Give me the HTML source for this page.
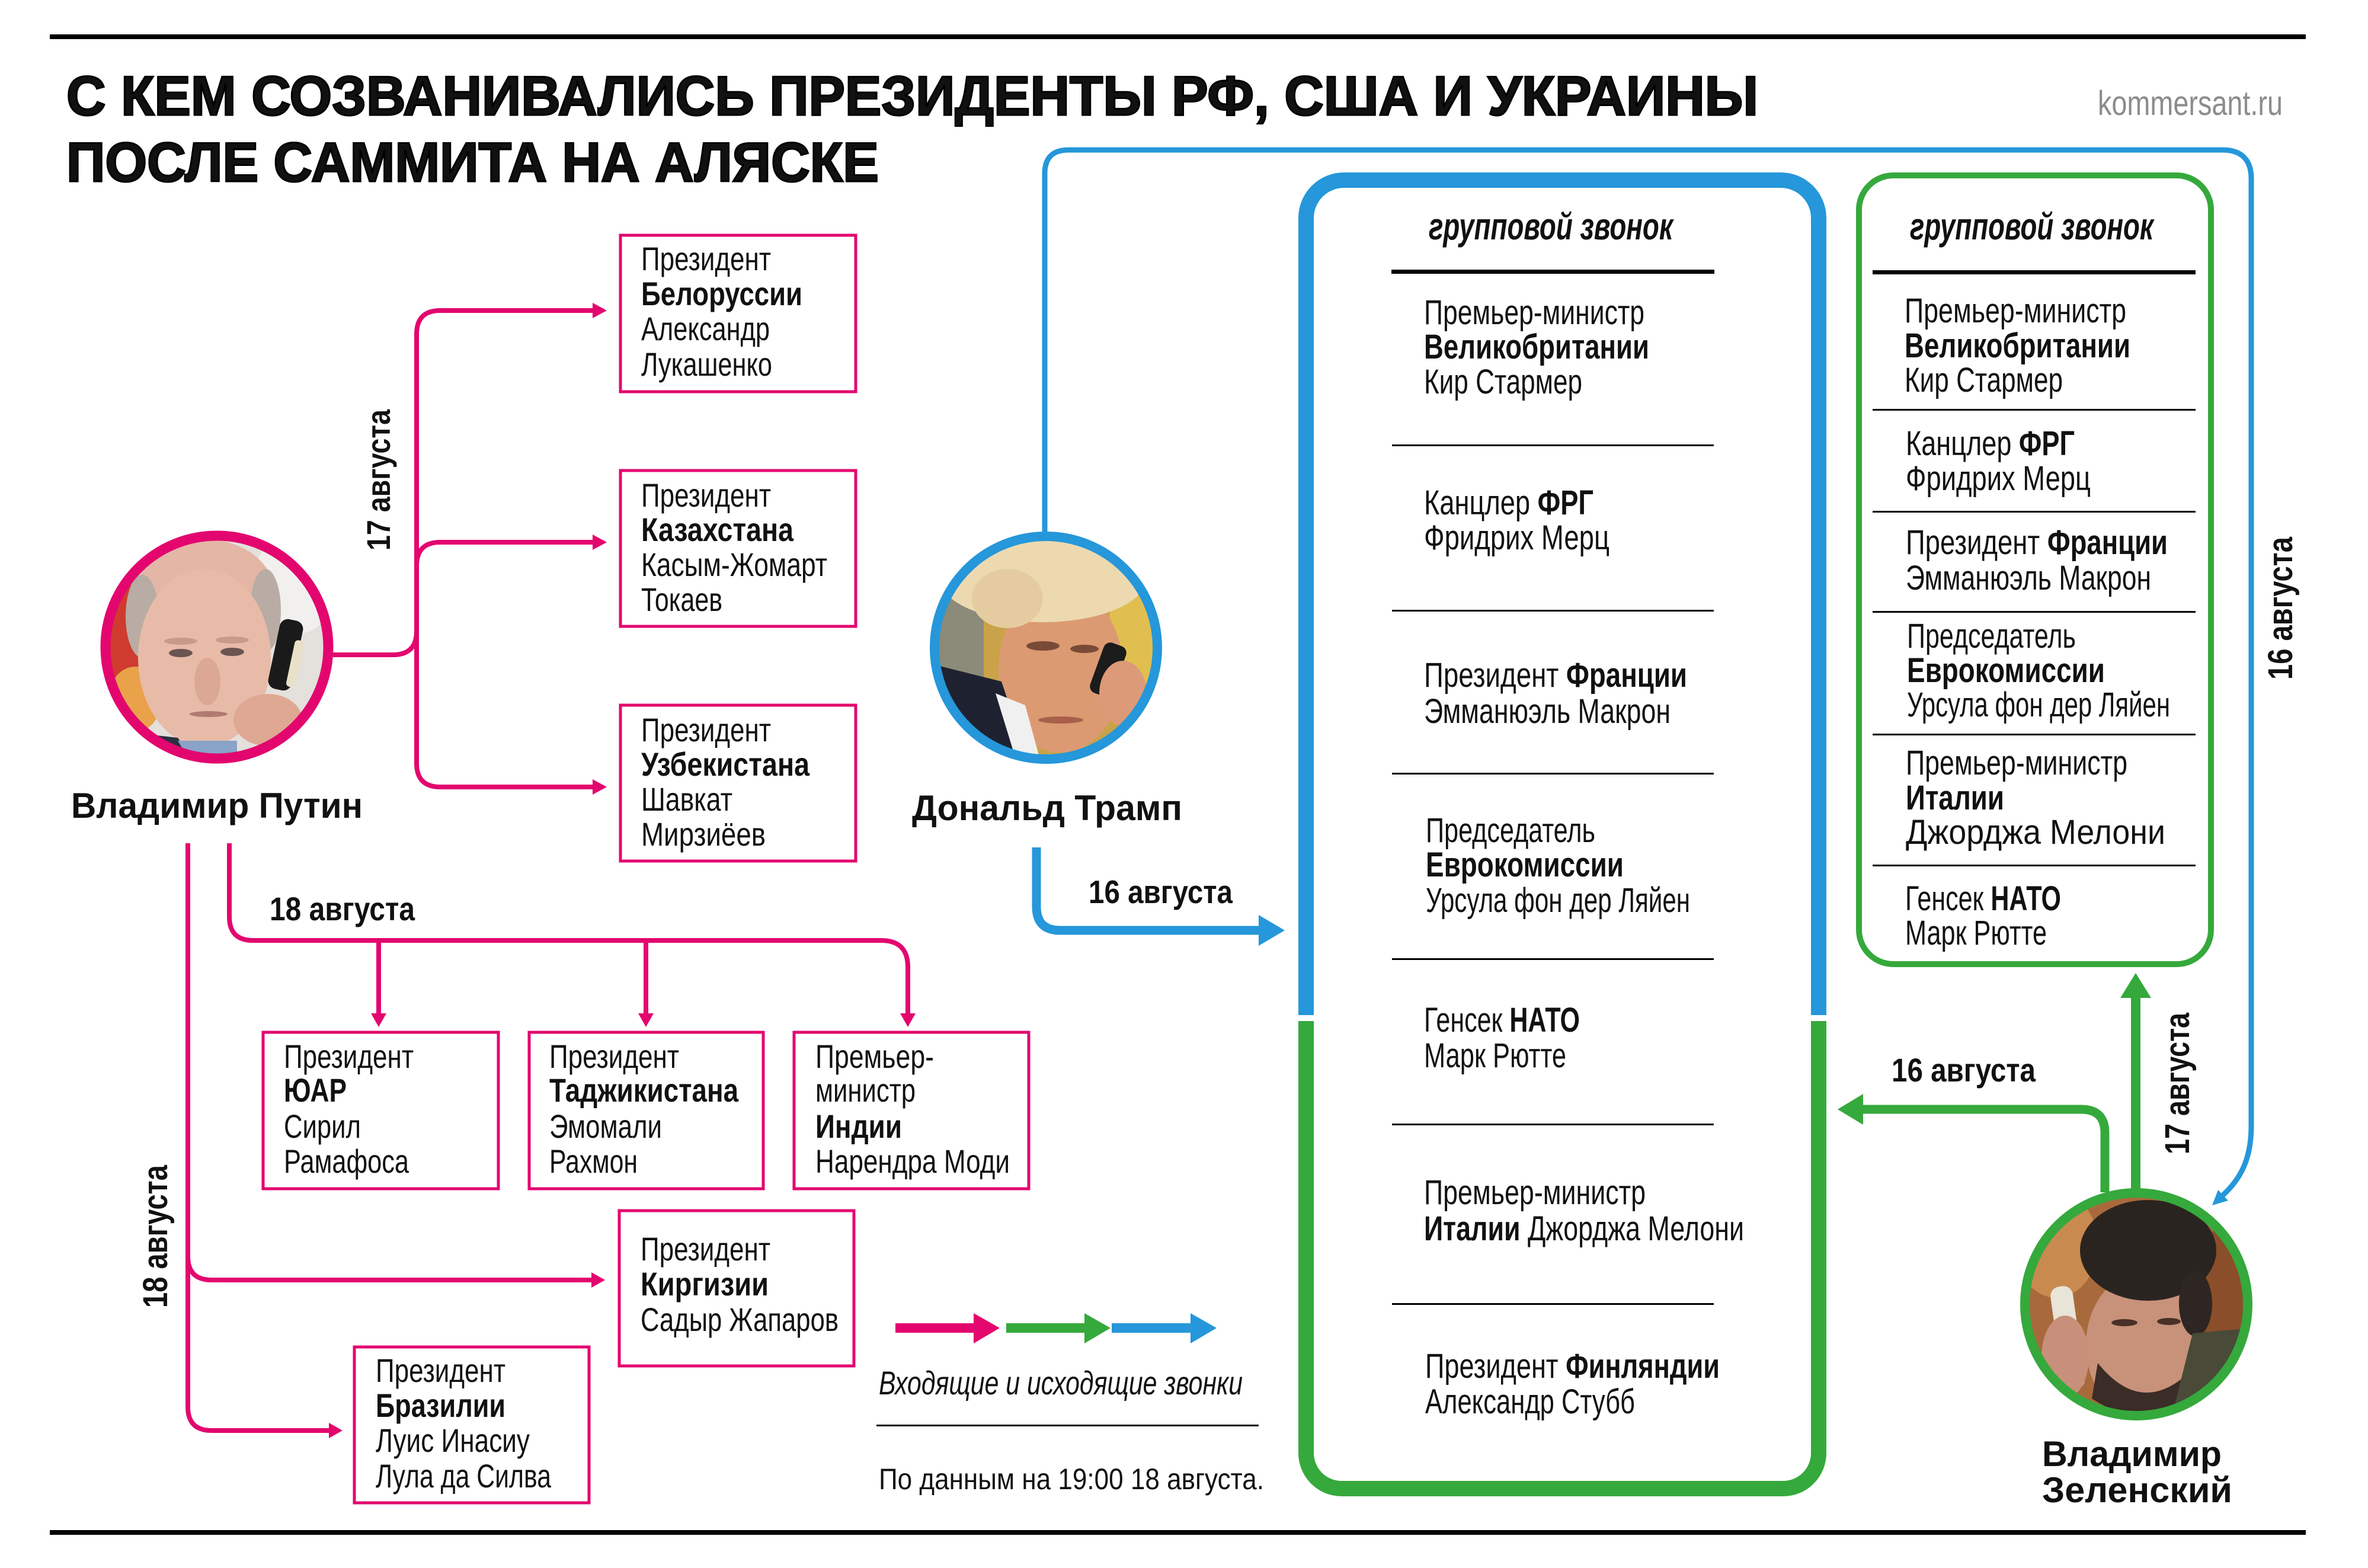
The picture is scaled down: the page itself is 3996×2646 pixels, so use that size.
<!DOCTYPE html>
<html><head><meta charset="utf-8"><style>
html,body{margin:0;padding:0;background:#fff;overflow:hidden}
svg{display:block}
text{font-family:"Liberation Sans","DejaVu Sans",sans-serif;fill:#111}
.b{font-weight:bold}
</style></head><body>
<svg xmlns="http://www.w3.org/2000/svg" width="3996" height="2646" viewBox="0 0 3996 2646">
<defs>
<clipPath id="cp"><circle cx="366" cy="1092" r="182"/></clipPath>
<clipPath id="ct"><circle cx="1765" cy="1093" r="182"/></clipPath>
<clipPath id="cz"><circle cx="3605" cy="2201" r="182"/></clipPath>
</defs>
<rect width="3996" height="2646" fill="#fff"/>

<!-- rules -->
<rect x="84" y="58" width="3807" height="8" fill="#000"/>
<rect x="84" y="2582" width="3807" height="8" fill="#000"/>

<!-- title -->
<text x="112" y="194" font-size="94" class="b" stroke="#000" stroke-width="3" textLength="2855" lengthAdjust="spacingAndGlyphs">С КЕМ СОЗВАНИВАЛИСЬ ПРЕЗИДЕНТЫ РФ, США И УКРАИНЫ</text>
<text x="112" y="306" font-size="94" class="b" stroke="#000" stroke-width="3" textLength="1371" lengthAdjust="spacingAndGlyphs">ПОСЛЕ САММИТА НА АЛЯСКЕ</text>
<text x="3540" y="194" font-size="58" style="fill:#8c8c8c" textLength="312" lengthAdjust="spacingAndGlyphs">kommersant.ru</text>

<!-- ===== PUTIN ===== -->
<g clip-path="url(#cp)">
<rect x="170" y="890" width="400" height="410" fill="#e4e0dc"/>
<ellipse cx="210" cy="1050" rx="60" ry="130" fill="#cf3b2e"/>
<ellipse cx="228" cy="1180" rx="45" ry="55" fill="#e9a24a"/>
<ellipse cx="250" cy="960" rx="40" ry="40" fill="#e07a55"/>
<ellipse cx="500" cy="980" rx="70" ry="90" fill="#f2f0ee"/>
<ellipse cx="345" cy="1000" rx="118" ry="90" fill="#e3b6a6"/>
<ellipse cx="240" cy="1040" rx="28" ry="70" fill="#b9aca4"/>
<ellipse cx="448" cy="1030" rx="26" ry="70" fill="#b9aca4"/>
<ellipse cx="345" cy="1110" rx="112" ry="150" fill="#e8bba8"/>
<ellipse cx="305" cy="1102" rx="20" ry="7" fill="#6a5550"/>
<ellipse cx="392" cy="1100" rx="20" ry="7" fill="#6a5550"/>
<ellipse cx="305" cy="1082" rx="28" ry="6" fill="#c99a8a"/>
<ellipse cx="392" cy="1080" rx="28" ry="6" fill="#c99a8a"/>
<ellipse cx="350" cy="1150" rx="22" ry="40" fill="#dba896"/>
<ellipse cx="352" cy="1205" rx="32" ry="5" fill="#b07a70"/>
<path d="M170 1230 L300 1245 L340 1300 L170 1300 Z" fill="#2b3140"/>
<path d="M300 1250 L400 1250 L400 1300 L330 1300 Z" fill="#8aa3c8"/>
<rect x="462" y="1045" width="40" height="120" rx="14" fill="#1a1a1a" transform="rotate(12 482 1105)"/>
<rect x="490" y="1080" width="16" height="80" rx="6" fill="#e8e0c8" transform="rotate(12 498 1120)"/>
<ellipse cx="452" cy="1215" rx="58" ry="44" fill="#dfa892"/>
</g>
<circle cx="366" cy="1092" r="188" fill="none" stroke="#E3066F" stroke-width="17"/>
<text x="120" y="1380" font-size="60" class="b" textLength="492" lengthAdjust="spacingAndGlyphs">Владимир Путин</text>

<!-- putin connectors -->
<g fill="none" stroke="#E3066F" stroke-width="8">
<path d="M562 1105 H663 Q703 1105 703 1065 V564 Q703 524 743 524 H1004"/>
<path d="M703 955 Q703 915 743 915 H1004"/>
<path d="M703 1060 V1288 Q703 1328 743 1328 H1004"/>
<path d="M387 1423 V1547 Q387 1587 427 1587 H1487 Q1532 1587 1532 1632 V1712"/>
<path d="M639 1587 V1712"/>
<path d="M1090 1587 V1712"/>
<path d="M317 1423 V2120 Q317 2160 357 2160 H1002"/>
<path d="M317 2110 V2374 Q317 2414 357 2414 H560"/>
</g>
<g fill="#E3066F">
<polygon points="1000,511 1024,524 1000,537"/>
<polygon points="1000,902 1024,915 1000,928"/>
<polygon points="1000,1315 1024,1328 1000,1341"/>
<polygon points="626,1710 652,1710 639,1733"/>
<polygon points="1077,1710 1103,1710 1090,1733"/>
<polygon points="1519,1710 1545,1710 1532,1733"/>
<polygon points="998,2147 1021,2160 998,2173"/>
<polygon points="555,2401 578,2414 555,2427"/>
</g>
<text transform="translate(658 929) rotate(-90)" font-size="56" class="b" textLength="238" lengthAdjust="spacingAndGlyphs">17 августа</text>
<text x="455" y="1553" font-size="56" class="b" textLength="245" lengthAdjust="spacingAndGlyphs">18 августа</text>
<text transform="translate(282 2207) rotate(-90)" font-size="58" class="b" textLength="241" lengthAdjust="spacingAndGlyphs">18 августа</text>

<!-- magenta boxes -->
<g fill="none" stroke="#E3066F" stroke-width="5">
<rect x="1047" y="397" width="397" height="264"/>
<rect x="1047" y="794" width="397" height="263"/>
<rect x="1047" y="1190" width="397" height="263"/>
<rect x="444" y="1742" width="397" height="264"/>
<rect x="893" y="1742" width="395" height="264"/>
<rect x="1340" y="1742" width="396" height="264"/>
<rect x="1045" y="2043" width="396" height="262"/>
<rect x="598" y="2273" width="396" height="263"/>
</g>
<g font-size="56">
<text x="1082" y="456" textLength="219" lengthAdjust="spacingAndGlyphs">Президент</text>
<text x="1082" y="515" class="b" textLength="272" lengthAdjust="spacingAndGlyphs">Белоруссии</text>
<text x="1082" y="574" textLength="217" lengthAdjust="spacingAndGlyphs">Александр</text>
<text x="1082" y="634" textLength="221" lengthAdjust="spacingAndGlyphs">Лукашенко</text>

<text x="1082" y="855" textLength="219" lengthAdjust="spacingAndGlyphs">Президент</text>
<text x="1082" y="913" class="b" textLength="257" lengthAdjust="spacingAndGlyphs">Казахстана</text>
<text x="1082" y="972" textLength="314" lengthAdjust="spacingAndGlyphs">Касым-Жомарт</text>
<text x="1082" y="1031" textLength="137" lengthAdjust="spacingAndGlyphs">Токаев</text>

<text x="1082" y="1251" textLength="219" lengthAdjust="spacingAndGlyphs">Президент</text>
<text x="1082" y="1309" class="b" textLength="284" lengthAdjust="spacingAndGlyphs">Узбекистана</text>
<text x="1082" y="1368" textLength="154" lengthAdjust="spacingAndGlyphs">Шавкат</text>
<text x="1082" y="1427" textLength="210" lengthAdjust="spacingAndGlyphs">Мирзиёев</text>

<text x="479" y="1802" textLength="219" lengthAdjust="spacingAndGlyphs">Президент</text>
<text x="479" y="1859" class="b" textLength="106" lengthAdjust="spacingAndGlyphs">ЮАР</text>
<text x="479" y="1920" textLength="130" lengthAdjust="spacingAndGlyphs">Сирил</text>
<text x="479" y="1979" textLength="211" lengthAdjust="spacingAndGlyphs">Рамафоса</text>

<text x="927" y="1802" textLength="219" lengthAdjust="spacingAndGlyphs">Президент</text>
<text x="927" y="1859" class="b" textLength="319" lengthAdjust="spacingAndGlyphs">Таджикистана</text>
<text x="927" y="1920" textLength="190" lengthAdjust="spacingAndGlyphs">Эмомали</text>
<text x="927" y="1979" textLength="149" lengthAdjust="spacingAndGlyphs">Рахмон</text>

<text x="1376" y="1802" textLength="200" lengthAdjust="spacingAndGlyphs">Премьер-</text>
<text x="1376" y="1859" textLength="169" lengthAdjust="spacingAndGlyphs">министр</text>
<text x="1376" y="1920" class="b" textLength="146" lengthAdjust="spacingAndGlyphs">Индии</text>
<text x="1376" y="1979" textLength="328" lengthAdjust="spacingAndGlyphs">Нарендра Моди</text>

<text x="1081" y="2127" textLength="219" lengthAdjust="spacingAndGlyphs">Президент</text>
<text x="1081" y="2186" class="b" textLength="216" lengthAdjust="spacingAndGlyphs">Киргизии</text>
<text x="1081" y="2246" textLength="334" lengthAdjust="spacingAndGlyphs">Садыр Жапаров</text>

<text x="634" y="2332" textLength="219" lengthAdjust="spacingAndGlyphs">Президент</text>
<text x="634" y="2391" class="b" textLength="219" lengthAdjust="spacingAndGlyphs">Бразилии</text>
<text x="634" y="2450" textLength="260" lengthAdjust="spacingAndGlyphs">Луис Инасиу</text>
<text x="634" y="2510" textLength="296" lengthAdjust="spacingAndGlyphs">Лула да Силва</text>
</g>

<!-- ===== TRUMP ===== -->
<path d="M1763 899 V293 Q1763 253 1803 253 H3750 Q3799 253 3799 302 V1900 C3799 1960 3778 1992 3751 2017" fill="none" stroke="#2597DA" stroke-width="9"/>
<polygon points="3760,2026 3733,2034 3743,2008" fill="#2597DA"/>
<g clip-path="url(#ct)">
<rect x="1570" y="890" width="400" height="410" fill="#c9a24a"/>
<rect x="1570" y="890" width="90" height="410" fill="#8c8a78"/>
<ellipse cx="1930" cy="1080" rx="60" ry="150" fill="#e0bf50"/>
<ellipse cx="1790" cy="1130" rx="105" ry="140" fill="#dc9a72"/>
<ellipse cx="1760" cy="975" rx="175" ry="75" fill="#ecd9b0"/>
<ellipse cx="1700" cy="1010" rx="60" ry="50" fill="#e5ccA0"/>
<ellipse cx="1760" cy="1090" rx="28" ry="8" fill="#7a4a38"/>
<ellipse cx="1830" cy="1095" rx="24" ry="7" fill="#7a4a38"/>
<ellipse cx="1790" cy="1215" rx="38" ry="6" fill="#a8604a"/>
<path d="M1570 1120 L1690 1150 L1740 1300 L1570 1300 Z" fill="#1e2230"/>
<path d="M1680 1170 L1730 1190 L1760 1300 L1720 1300 Z" fill="#f0f0f0"/>
<rect x="1850" y="1085" width="40" height="90" rx="12" fill="#1b1b1b" transform="rotate(20 1870 1130)"/>
<ellipse cx="1895" cy="1170" rx="40" ry="55" fill="#dc9a78"/>
</g>
<circle cx="1765" cy="1093" r="188" fill="none" stroke="#2597DA" stroke-width="16"/>
<text x="1539" y="1384" font-size="60" class="b" textLength="456" lengthAdjust="spacingAndGlyphs">Дональд Трамп</text>
<path d="M1749 1430 V1530 Q1749 1570 1789 1570 H2128" fill="none" stroke="#2597DA" stroke-width="15"/>
<polygon points="2124,1544 2168,1570 2124,1596" fill="#2597DA"/>
<text x="1837" y="1524" font-size="55" class="b" textLength="243" lengthAdjust="spacingAndGlyphs">16 августа</text>

<!-- ===== BIG BOX ===== -->
<path d="M2204 1713 V368 A64 64 0 0 1 2268 304 H3005 A64 64 0 0 1 3069 368 V1713" fill="none" stroke="#2597DA" stroke-width="26"/>
<path d="M2204 1723 V2452 A60 60 0 0 0 2264 2512 H3009 A60 60 0 0 0 3069 2452 V1723" fill="none" stroke="#35A93C" stroke-width="26"/>
<text x="2411" y="404" font-size="64" class="b" font-style="italic" textLength="412" lengthAdjust="spacingAndGlyphs">групповой звонок</text>
<rect x="2348" y="455" width="545" height="7" fill="#000"/>
<g fill="#000">
<rect x="2349" y="750" width="543" height="3"/>
<rect x="2349" y="1029" width="543" height="3"/>
<rect x="2349" y="1304" width="543" height="3"/>
<rect x="2349" y="1617" width="543" height="3"/>
<rect x="2349" y="1896" width="543" height="3"/>
<rect x="2349" y="2199" width="543" height="3"/>
</g>
<g font-size="58">
<text x="2403" y="547" textLength="372" lengthAdjust="spacingAndGlyphs">Премьер-министр</text>
<text x="2403" y="605" class="b" textLength="380" lengthAdjust="spacingAndGlyphs">Великобритании</text>
<text x="2403" y="664" textLength="267" lengthAdjust="spacingAndGlyphs">Кир Стармер</text>
<text x="2403" y="868" textLength="286" lengthAdjust="spacingAndGlyphs">Канцлер <tspan class="b">ФРГ</tspan></text>
<text x="2403" y="927" textLength="313" lengthAdjust="spacingAndGlyphs">Фридрих Мерц</text>
<text x="2403" y="1159" textLength="444" lengthAdjust="spacingAndGlyphs">Президент <tspan class="b">Франции</tspan></text>
<text x="2403" y="1220" textLength="416" lengthAdjust="spacingAndGlyphs">Эмманюэль Макрон</text>
<text x="2406" y="1421" textLength="286" lengthAdjust="spacingAndGlyphs">Председатель</text>
<text x="2406" y="1479" class="b" textLength="334" lengthAdjust="spacingAndGlyphs">Еврокомиссии</text>
<text x="2406" y="1539" textLength="446" lengthAdjust="spacingAndGlyphs">Урсула фон дер Ляйен</text>
<text x="2403" y="1741" textLength="263" lengthAdjust="spacingAndGlyphs">Генсек <tspan class="b">НАТО</tspan></text>
<text x="2403" y="1801" textLength="240" lengthAdjust="spacingAndGlyphs">Марк Рютте</text>
<text x="2403" y="2032" textLength="374" lengthAdjust="spacingAndGlyphs">Премьер-министр</text>
<text x="2403" y="2093" textLength="540" lengthAdjust="spacingAndGlyphs"><tspan class="b">Италии</tspan> Джорджа Мелони</text>
<text x="2405" y="2325" textLength="497" lengthAdjust="spacingAndGlyphs">Президент <tspan class="b">Финляндии</tspan></text>
<text x="2405" y="2385" textLength="354" lengthAdjust="spacingAndGlyphs">Александр Стубб</text>
</g>

<!-- ===== GREEN BOX ===== -->
<rect x="3137" y="296" width="594" height="1331" rx="58" fill="none" stroke="#35A93C" stroke-width="10"/>
<text x="3223" y="404" font-size="64" class="b" font-style="italic" textLength="411" lengthAdjust="spacingAndGlyphs">групповой звонок</text>
<rect x="3160" y="456" width="545" height="7" fill="#000"/>
<g fill="#000">
<rect x="3160" y="690" width="545" height="3"/>
<rect x="3160" y="862" width="545" height="3"/>
<rect x="3160" y="1031" width="545" height="3"/>
<rect x="3160" y="1238" width="545" height="3"/>
<rect x="3160" y="1459" width="545" height="3"/>
</g>
<g font-size="58">
<text x="3214" y="544" textLength="374" lengthAdjust="spacingAndGlyphs">Премьер-министр</text>
<text x="3214" y="603" class="b" textLength="381" lengthAdjust="spacingAndGlyphs">Великобритании</text>
<text x="3214" y="661" textLength="267" lengthAdjust="spacingAndGlyphs">Кир Стармер</text>
<text x="3216" y="768" textLength="285" lengthAdjust="spacingAndGlyphs">Канцлер <tspan class="b">ФРГ</tspan></text>
<text x="3216" y="827" textLength="312" lengthAdjust="spacingAndGlyphs">Фридрих Мерц</text>
<text x="3216" y="935" textLength="442" lengthAdjust="spacingAndGlyphs">Президент <tspan class="b">Франции</tspan></text>
<text x="3216" y="995" textLength="414" lengthAdjust="spacingAndGlyphs">Эмманюэль Макрон</text>
<text x="3218" y="1093" textLength="285" lengthAdjust="spacingAndGlyphs">Председатель</text>
<text x="3218" y="1151" class="b" textLength="334" lengthAdjust="spacingAndGlyphs">Еврокомиссии</text>
<text x="3218" y="1209" textLength="444" lengthAdjust="spacingAndGlyphs">Урсула фон дер Ляйен</text>
<text x="3216" y="1307" textLength="374" lengthAdjust="spacingAndGlyphs">Премьер-министр</text>
<text x="3216" y="1366" class="b" textLength="166" lengthAdjust="spacingAndGlyphs">Италии</text>
<text x="3216" y="1424" textLength="438" lengthAdjust="spacingAndGlyphs">Джорджа Мелони</text>
<text x="3215" y="1536" textLength="263" lengthAdjust="spacingAndGlyphs">Генсек <tspan class="b">НАТО</tspan></text>
<text x="3215" y="1594" textLength="239" lengthAdjust="spacingAndGlyphs">Марк Рютте</text>
</g>
<text transform="translate(3868 1147) rotate(-90)" font-size="58" class="b" textLength="241" lengthAdjust="spacingAndGlyphs">16 августа</text>

<!-- ===== ZELENSKY ===== -->
<path d="M3604 2012 V1680" fill="none" stroke="#35A93C" stroke-width="16"/>
<polygon points="3578,1684 3604,1642 3630,1684" fill="#35A93C"/>
<path d="M3552 2012 V1912 Q3552 1872 3512 1872 H3140" fill="none" stroke="#35A93C" stroke-width="15"/>
<polygon points="3144,1846 3101,1872 3144,1898" fill="#35A93C"/>
<text x="3192" y="1825" font-size="56" class="b" textLength="243" lengthAdjust="spacingAndGlyphs">16 августа</text>
<text transform="translate(3694 1948) rotate(-90)" font-size="58" class="b" textLength="239" lengthAdjust="spacingAndGlyphs">17 августа</text>
<g clip-path="url(#cz)">
<rect x="3400" y="2000" width="410" height="410" fill="#a86a3c"/>
<ellipse cx="3470" cy="2100" rx="70" ry="90" fill="#c98a50"/>
<ellipse cx="3760" cy="2180" rx="50" ry="120" fill="#8a4e2a"/>
<ellipse cx="3620" cy="2270" rx="100" ry="125" fill="#c8927a"/>
<ellipse cx="3625" cy="2110" rx="115" ry="85" fill="#2a2420"/>
<ellipse cx="3705" cy="2200" rx="28" ry="55" fill="#2e2622"/>
<ellipse cx="3585" cy="2232" rx="22" ry="6" fill="#4a3028"/>
<ellipse cx="3660" cy="2230" rx="20" ry="6" fill="#4a3028"/>
<path d="M3540 2300 Q3620 2400 3710 2300 L3720 2360 Q3620 2420 3530 2360 Z" fill="#3a2c26"/>
<path d="M3700 2250 L3810 2240 L3810 2410 L3660 2410 Z" fill="#4a4a38"/>
<rect x="3470" y="2170" width="38" height="175" rx="16" fill="#e8e4d8" transform="rotate(-8 3489 2257)"/>
<ellipse cx="3485" cy="2290" rx="40" ry="70" fill="#c8907a"/>
</g>
<circle cx="3605" cy="2201" r="188" fill="none" stroke="#35A93C" stroke-width="16"/>
<text x="3446" y="2474" font-size="60" class="b" textLength="303" lengthAdjust="spacingAndGlyphs">Владимир</text>
<text x="3446" y="2535" font-size="60" class="b" textLength="321" lengthAdjust="spacingAndGlyphs">Зеленский</text>

<!-- ===== LEGEND ===== -->
<rect x="1511" y="2233" width="134" height="16" fill="#E3066F"/>
<polygon points="1643,2216 1687,2241 1643,2267" fill="#E3066F"/>
<rect x="1698" y="2233" width="134" height="16" fill="#35A93C"/>
<polygon points="1830,2216 1874,2241 1830,2267" fill="#35A93C"/>
<rect x="1876" y="2233" width="135" height="16" fill="#2597DA"/>
<polygon points="2009,2216 2053,2241 2009,2267" fill="#2597DA"/>
<text x="1483" y="2353" font-size="56" font-style="italic" textLength="614" lengthAdjust="spacingAndGlyphs">Входящие и исходящие звонки</text>
<rect x="1479" y="2404" width="645" height="3" fill="#000"/>
<text x="1483" y="2513" font-size="50" textLength="650" lengthAdjust="spacingAndGlyphs">По данным на 19:00 18 августа.</text>
</svg>
</body></html>
